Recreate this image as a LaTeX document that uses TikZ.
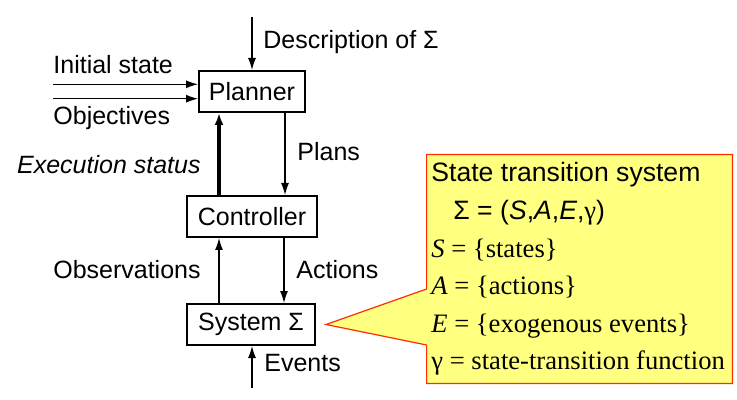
\documentclass[tikz,border=0pt]{standalone}
\usepackage{fontspec}
\setmainfont{Liberation Sans}
\newfontfamily\timesfont{Liberation Serif}
\definecolor{notaAmarelo}{RGB}{255,255,128}
\definecolor{notaBorda}{RGB}{255,45,0}
\usetikzlibrary{arrows.meta,positioning,backgrounds}
\tikzset{
  caixa/.style={rectangle, draw=black, line width=1pt, fill=white,
                minimum height=20.5pt, inner sep=2pt, align=center},
  rotulo/.style={inner sep=0pt, font=\fontsize{12.5}{15}\selectfont},
  seta/.style={-{Latex[length=6pt,width=4pt]}, line width=0.6pt},
  setaforte/.style={-{Latex[length=6pt,width=4.5pt]}, line width=2pt},
  nota/.style={draw=notaBorda, line width=0.6pt, fill=notaAmarelo},
}

\begin{document}
\begin{tikzpicture}[x=0.5pt, y=-0.5pt, font=\fontsize{12.5}{15}\selectfont]
  \useasboundingbox (0,0) rectangle (737,400);
  % blocos
  \node[caixa, minimum width=53pt] (planner) at (252,91.5) {Planner};
  \node[caixa, minimum width=65pt, below=41pt of planner] (ctrl) {Controller};
  \node[caixa, minimum width=64pt, below=32.5pt of ctrl, xshift=-0.5pt] (sys) {System Σ};
  % entradas livres
  \coordinate (descin) at (252,17);
  \coordinate (initin) at (53,84.3);
  \coordinate (objin) at (53,98.7);
  \coordinate (evin) at (252,388);
  % setas
  \draw[seta] (descin) -- (planner.north);
  \draw[seta] (initin) -- (initin -| planner.west);
  \draw[seta] (objin) -- (objin -| planner.west);
  \draw[seta] ([xshift=16.5pt]planner.south) -- ([xshift=16.5pt]planner.south |- ctrl.north);
  \draw[setaforte] ([xshift=-16.5pt]planner.south |- ctrl.north) -- ([xshift=-16.5pt]planner.south);
  \draw[seta] ([xshift=16pt]ctrl.south) -- ([xshift=16pt]ctrl.south |- sys.north);
  \draw[seta] ([xshift=-16.5pt]ctrl.south |- sys.north) -- ([xshift=-16.5pt]ctrl.south);
  \draw[seta] (evin) -- (evin |- sys.south);
  % rotulos
  \node[rotulo, anchor=west] (ldesc) at (263,42) {Description of Σ};
  \node[rotulo, anchor=west] (linit) at (53,65) {Initial state};
  \node[rotulo, anchor=west] (lobj) at (53,118) {Objectives};
  \node[rotulo, anchor=east] (lexec) at (201,165) {\itshape Execution status};
  \node[rotulo, anchor=west] (lplans) at (297,152) {Plans};
  \node[rotulo, anchor=east] (lobs) at (201,270) {Observations};
  \node[rotulo, anchor=west] (lact) at (296,270) {Actions};
  \node[rotulo, anchor=west] (lev) at (264,363) {Events};
  % nota
  \node[minimum width=152.5pt, minimum height=114pt, inner sep=0pt] (info) at (579.5,269) {};
  \node[anchor=west, align=left, inner sep=0pt, font=\fontsize{13.3}{18.8}\selectfont] (infotxt) at (431,269)
    {State transition system\\
     \hspace*{11pt}Σ = (\textit{S},\textit{A},\textit{E},{\timesfont γ})\\
     {\timesfont\textit{S} = \{states\}}\\
     {\timesfont\textit{A} = \{actions\}}\\
     {\timesfont\textit{E} = \{exogenous events\}}\\
     {\timesfont γ = state-transition function}};
  \begin{scope}[on background layer]
    \draw[nota] (info.north west) -- (info.north east) -- (info.south east)
      -- (info.south west) -- (info.west |- 0,345) -- ([xshift=5pt]sys.east)
      -- (info.west |- 0,289) -- cycle;
  \end{scope}
\end{tikzpicture}
\end{document}
